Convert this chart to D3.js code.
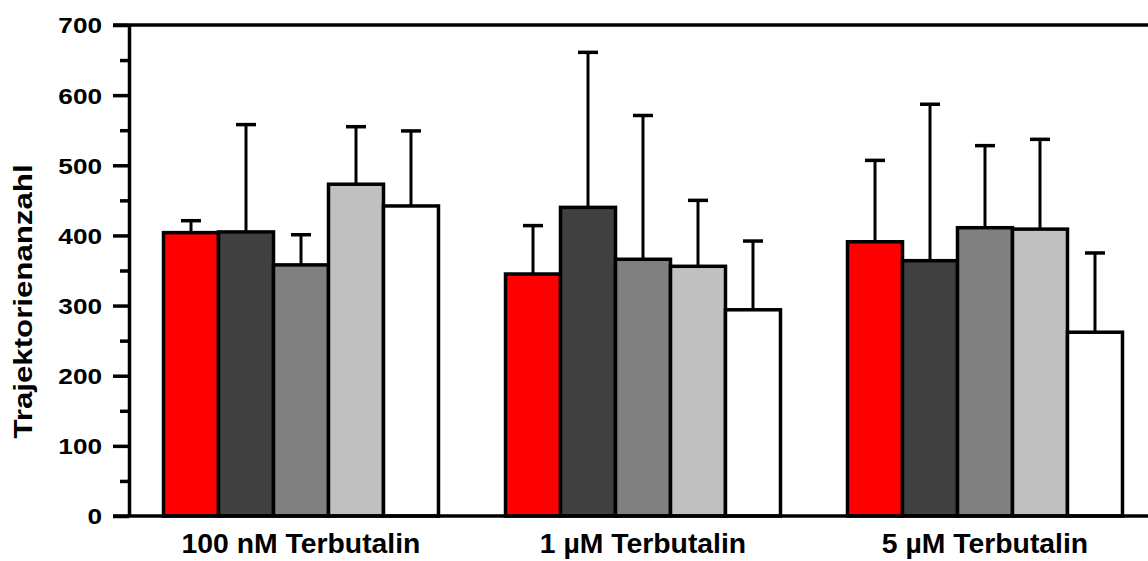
<!DOCTYPE html>
<html><head><meta charset="utf-8">
<script src="https://cdn.jsdelivr.net/npm/d3@7"></script>
<style>body{margin:0;background:#fff}svg{display:block}</style>
</head><body>
<svg id="chart" width="1148" height="561"></svg>
<script>
// ---- data ----
const categories = ["100 nM Terbutalin", "1 µM Terbutalin", "5 µM Terbutalin"];
const seriesNames = ["Serie 1", "Serie 2", "Serie 3", "Serie 4", "Serie 5"];
const serie1Mean = [404, 345, 391];
const serie2Mean = [405, 440, 364];
const serie3Mean = [358, 366, 411];
const serie4Mean = [473, 356, 409];
const serie5Mean = [442, 294, 262];
const serie1Err = [17, 69, 116];
const serie2Err = [153, 221, 223];
const serie3Err = [43, 205, 117];
const serie4Err = [82, 94, 128];
const serie5Err = [107, 98, 113];
const yTicks = [0, 100, 200, 300, 400, 500, 600, 700];
const yMinorTicks = [50, 150, 250, 350, 450, 550, 650];
const yTitle = "Trajektorienanzahl";

// ---- styles ----
const colors = ["#ff0000", "#404040", "#808080", "#c0c0c0", "#ffffff"];
const FONT = "'Liberation Sans', Arial, Helvetica, sans-serif";

const means = [serie1Mean, serie2Mean, serie3Mean, serie4Mean, serie5Mean];
const errs = [serie1Err, serie2Err, serie3Err, serie4Err, serie5Err];
const rows = [];
categories.forEach((c, ci) => seriesNames.forEach((s, si) => {
  rows.push({cat: c, series: s, si, mean: means[si][ci], err: errs[si][ci]});
}));

const svg = d3.select("#chart");
svg.append("rect").attr("width", 1148).attr("height", 561).attr("fill", "#fff");

const axisX = 129, topY = 25, zeroY = 516;
const x0 = d3.scaleBand().domain(categories).range([130, 1156]).paddingInner(0.196).paddingOuter(0.098);
const x1 = d3.scaleBand().domain(seriesNames).range([0, x0.bandwidth()]);
const y = d3.scaleLinear().domain([0, 700]).range([zeroY, topY]);

// bars
const g = svg.append("g");
g.selectAll("rect.bar").data(rows).join("rect")
  .attr("class", "bar")
  .attr("x", d => x0(d.cat) + x1(d.series))
  .attr("y", d => y(d.mean))
  .attr("width", x1.bandwidth())
  .attr("height", d => y(0) - y(d.mean))
  .attr("fill", d => colors[d.si])
  .attr("stroke", "#000")
  .attr("stroke-width", 3.5);

// error bars
const capW = 20;
const eb = svg.append("g").attr("stroke", "#000");
eb.selectAll("line.v").data(rows).join("line")
  .attr("x1", d => x0(d.cat) + x1(d.series) + x1.bandwidth() / 2)
  .attr("x2", d => x0(d.cat) + x1(d.series) + x1.bandwidth() / 2)
  .attr("y1", d => y(d.mean))
  .attr("y2", d => y(d.mean + d.err))
  .attr("stroke-width", 3);
eb.selectAll("line.c").data(rows).join("line")
  .attr("x1", d => x0(d.cat) + x1(d.series) + x1.bandwidth() / 2 - capW / 2)
  .attr("x2", d => x0(d.cat) + x1(d.series) + x1.bandwidth() / 2 + capW / 2)
  .attr("y1", d => y(d.mean + d.err))
  .attr("y2", d => y(d.mean + d.err))
  .attr("stroke-width", 3.5);

// frame lines (top and bottom)
svg.append("line").attr("x1", 113).attr("x2", 1160).attr("y1", y(700)).attr("y2", y(700))
  .attr("stroke", "#000").attr("stroke-width", 3.5);
svg.append("line").attr("x1", 113).attr("x2", 1160).attr("y1", y(0)).attr("y2", y(0))
  .attr("stroke", "#000").attr("stroke-width", 3.5);

// y axis minor
const yMinor = svg.append("g").attr("transform", `translate(${axisX},0)`)
  .call(d3.axisLeft(y).tickValues(yMinorTicks).tickSize(9).tickSizeOuter(0).tickFormat(""));
yMinor.select(".domain").remove();
yMinor.selectAll(".tick line").attr("stroke", "#000").attr("stroke-width", 3.5);

// y axis major
const sxTick = 1.19;
const yAx = svg.append("g").attr("transform", `translate(${axisX},0)`)
  .call(d3.axisLeft(y).tickValues(yTicks).tickSize(16).tickSizeOuter(0));
yAx.select(".domain").attr("stroke", "#000").attr("stroke-width", 3.5);
yAx.selectAll(".tick line").attr("stroke", "#000").attr("stroke-width", 3.5);
yAx.selectAll(".tick text")
  .attr("font-family", FONT).attr("font-weight", "bold").attr("font-size", 22)
  .attr("fill", "#000")
  .attr("x", -27 / sxTick).attr("dy", "0.36em")
  .attr("transform", `scale(${sxTick},1)`);

// x axis labels
const sxLab = 1.05;
const xAx = svg.append("g").attr("transform", `translate(0,${zeroY})`)
  .call(d3.axisBottom(x0).tickSize(0));
xAx.select(".domain").remove();
xAx.selectAll(".tick text")
  .attr("font-family", FONT).attr("font-weight", "bold").attr("font-size", 27)
  .attr("fill", "#000").attr("y", 37).attr("dy", 0)
  .attr("transform", `scale(${sxLab},1)`);

// y title
const sxTitle = 1.25;
svg.append("text")
  .attr("transform", `translate(32,301.5) rotate(-90) scale(${sxTitle},1)`)
  .attr("text-anchor", "middle")
  .attr("font-family", FONT).attr("font-weight", "bold").attr("font-size", 25)
  .attr("fill", "#000")
  .text(yTitle);
</script>
</body></html>
